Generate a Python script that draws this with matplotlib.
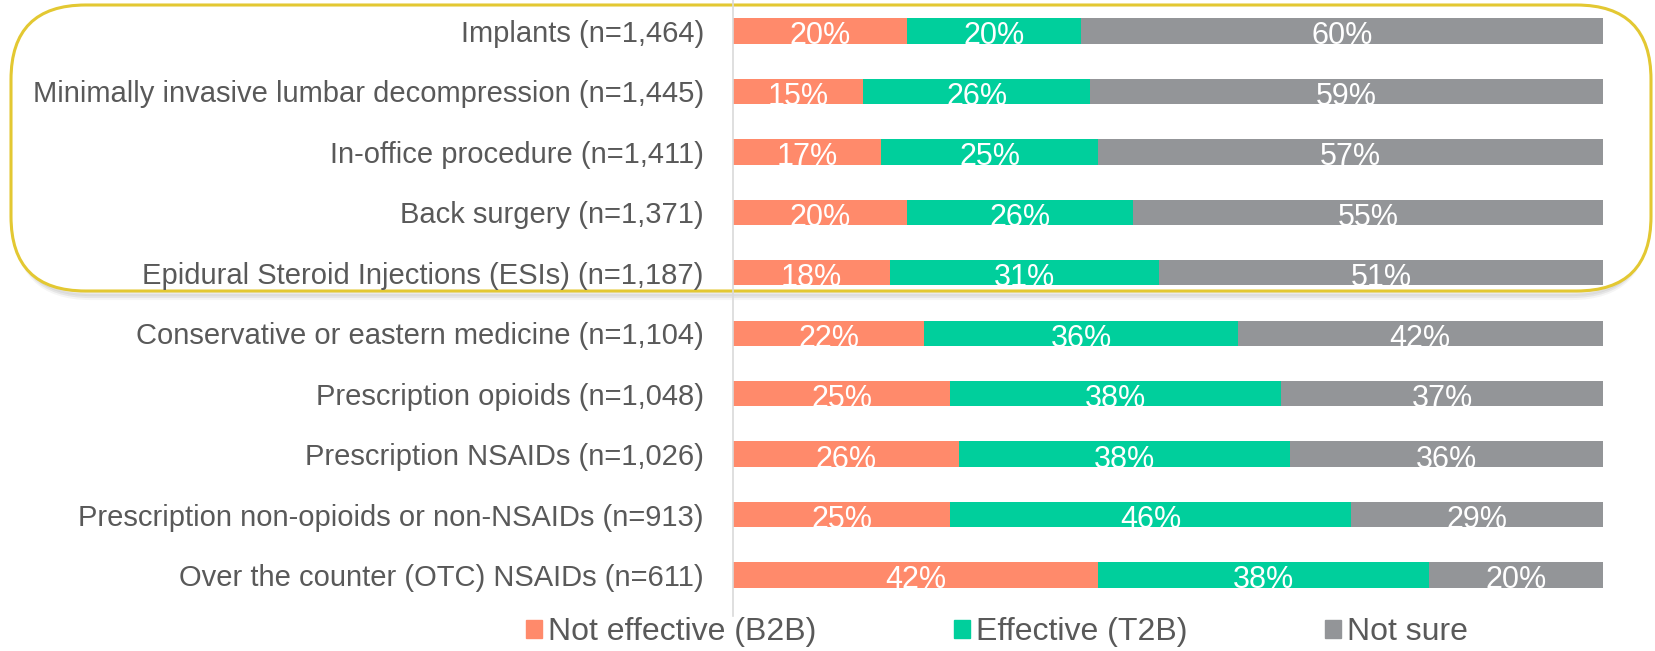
import matplotlib
matplotlib.use("Agg")
import matplotlib.pyplot as plt
from matplotlib.patches import FancyBboxPatch, Patch
import numpy as np

# Treatment categories (top to bottom)
categories = [
    "Implants (n=1,464)",
    "Minimally invasive lumbar decompression (n=1,445)",
    "In-office procedure (n=1,411)",
    "Back surgery (n=1,371)",
    "Epidural Steroid Injections (ESIs) (n=1,187)",
    "Conservative or eastern medicine (n=1,104)",
    "Prescription opioids (n=1,048)",
    "Prescription NSAIDs (n=1,026)",
    "Prescription non-opioids or non-NSAIDs (n=913)",
    "Over the counter (OTC) NSAIDs (n=611)",
]
not_effective = [20, 15, 17, 20, 18, 22, 25, 26, 25, 42]
effective = [20, 26, 25, 26, 31, 36, 38, 38, 46, 38]
not_sure = [60, 59, 57, 55, 51, 42, 37, 36, 29, 20]
series_names = ["Not effective (B2B)", "Effective (T2B)", "Not sure"]

c_orange = "#FF8A6B"
c_green = "#00CF9C"
c_gray = "#939598"
txt_gray = "#595959"

plt.rcParams["font.family"] = ["Liberation Sans", "DejaVu Sans"]

fig = plt.figure(figsize=(16.56, 6.51), dpi=100)
W, H = 1656, 651

# rounded highlight box around the first five rows (with soft shadow)
top, bot = 5, 291
for off, a in [(7, 0.04), (5, 0.06), (3, 0.08)]:
    sh = FancyBboxPatch((16 / W, (H - bot - off) / H), (1646 - 16) / W, (bot - top) / H,
                        boxstyle="round,pad=0,rounding_size=0.045", transform=fig.transFigure,
                        facecolor="none", edgecolor="#000000", alpha=a, linewidth=3,
                        mutation_aspect=W / H, zorder=-3)
    fig.patches.append(sh)
box = FancyBboxPatch((11 / W, (H - bot) / H), (1651 - 11) / W, (bot - top) / H,
                     boxstyle="round,pad=0,rounding_size=0.045", transform=fig.transFigure,
                     facecolor="white", edgecolor="#E3C832", linewidth=2.2,
                     mutation_aspect=W / H, zorder=-2)
fig.patches.append(box)

ax = fig.add_axes([733 / W, 1 - 616 / H, (1603 - 733) / W, 616 / H])
ax.patch.set_alpha(0)

y = np.arange(len(categories))
ne = np.array(not_effective)
ef = np.array(effective)
rest = 100 - ne - ef  # gray fills the rest of each row

bh = 0.42
ax.barh(y, ne, height=bh, color=c_orange)
ax.barh(y, ef, left=ne, height=bh, color=c_green)
ax.barh(y, rest, left=ne + ef, height=bh, color=c_gray)

for i in range(len(categories)):
    for left, w, v in [(0, ne[i], not_effective[i]), (ne[i], ef[i], effective[i]),
                       (ne[i] + ef[i], rest[i], not_sure[i])]:
        ax.text(left + w / 2, y[i] + 0.09, f"{v}%", ha="center", va="center",
                color="white", fontsize=22, clip_on=False)

ax.set_xlim(0, 100)
ax.set_ylim(9 + 41 / 60.44, -31 / 60.44)
ax.set_yticks(y)
ax.set_yticklabels(categories, fontsize=21, color=txt_gray)
ax.tick_params(axis="y", length=0, pad=21)
ax.set_xticks([])
for s in ["top", "right", "bottom"]:
    ax.spines[s].set_visible(False)
ax.spines["left"].set_color("#D9D9D9")
ax.spines["left"].set_linewidth(1.2)

handles = [Patch(color=c) for c in (c_orange, c_green, c_gray)]
leg = fig.legend(handles, series_names, loc="center", bbox_to_anchor=(0.602, 1 - 632 / H),
                 ncol=3, frameon=False, fontsize=23, handlelength=0.5, handleheight=0.5,
                 handletextpad=0.2, columnspacing=4.3, borderpad=0.1)
for t in leg.get_texts():
    t.set_color(txt_gray)

fig.savefig("out.png", dpi=100)
